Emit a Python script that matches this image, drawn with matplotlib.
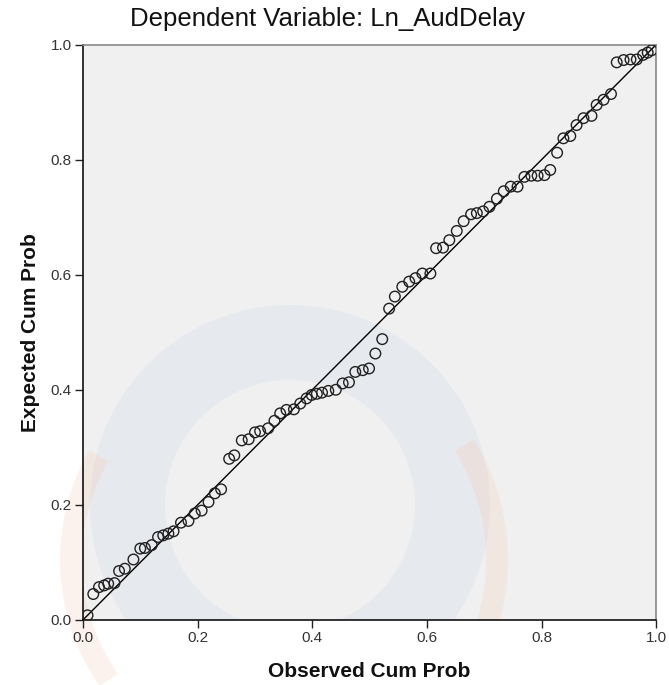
import numpy as np
import matplotlib
matplotlib.use("Agg")
import matplotlib.pyplot as plt
from matplotlib.patches import Wedge
from matplotlib.transforms import IdentityTransform

plt.rcParams['font.family'] = ['Liberation Sans', 'DejaVu Sans']

# P-P plot points (observed, expected)
observed = [0.008, 0.018, 0.028, 0.037, 0.044, 0.055, 0.063, 0.073, 0.088, 0.100,
            0.108, 0.120, 0.131, 0.140, 0.149, 0.158, 0.171, 0.184, 0.195, 0.207,
            0.219, 0.230, 0.241, 0.255, 0.264, 0.277, 0.289, 0.300, 0.309, 0.323,
            0.334, 0.344, 0.355, 0.368, 0.379, 0.390, 0.399, 0.408, 0.417, 0.428,
            0.441, 0.453, 0.464, 0.475, 0.488, 0.499, 0.510, 0.522, 0.534, 0.544,
            0.557, 0.569, 0.580, 0.592, 0.606, 0.616, 0.628, 0.639, 0.652, 0.664,
            0.677, 0.687, 0.698, 0.709, 0.722, 0.734, 0.746, 0.758, 0.770, 0.782,
            0.793, 0.805, 0.815, 0.827, 0.838, 0.850, 0.861, 0.873, 0.887, 0.896,
            0.908, 0.921, 0.931, 0.943, 0.955, 0.966, 0.977, 0.985, 0.992]
expected = [0.008, 0.045, 0.057, 0.060, 0.063, 0.064, 0.085, 0.089, 0.105, 0.124,
            0.125, 0.130, 0.144, 0.147, 0.150, 0.154, 0.169, 0.172, 0.185, 0.190,
            0.205, 0.220, 0.227, 0.280, 0.286, 0.312, 0.314, 0.326, 0.328, 0.333,
            0.346, 0.359, 0.365, 0.366, 0.376, 0.385, 0.391, 0.393, 0.395, 0.398,
            0.400, 0.411, 0.413, 0.431, 0.434, 0.437, 0.463, 0.488, 0.541, 0.562,
            0.579, 0.588, 0.594, 0.602, 0.602, 0.646, 0.647, 0.660, 0.676, 0.693,
            0.705, 0.707, 0.710, 0.718, 0.732, 0.745, 0.753, 0.753, 0.770, 0.772,
            0.772, 0.773, 0.782, 0.812, 0.837, 0.841, 0.860, 0.872, 0.876, 0.895,
            0.904, 0.914, 0.969, 0.973, 0.974, 0.974, 0.982, 0.986, 0.990]
ticks = [0.0, 0.2, 0.4, 0.6, 0.8, 1.0]

fig = plt.figure(figsize=(6.69, 6.85), dpi=100)
ax = fig.add_axes([0.124, 0.095, 0.857, 0.840])
ax.set_facecolor('#f0f0f0')

# faint watermark behind the plot (pixel coords)
ident = IdentityTransform()
ax.add_patch(Wedge((290, 180), 200, 0, 360, width=75, transform=ident,
                   color='#d8dfea', alpha=0.4, lw=0, zorder=0.5, clip_on=True))
ax.add_patch(Wedge((280, 125), 220, 150, 215, width=22, transform=ident,
                   color='#f6cdb8', alpha=0.25, lw=0, zorder=0.5, clip_on=False))
ax.add_patch(Wedge((280, 125), 228, -20, 32, width=22, transform=ident,
                   color='#f6cdb8', alpha=0.25, lw=0, zorder=0.5, clip_on=True))

ax.plot([0, 1], [0, 1], color='black', linewidth=1.0, zorder=2)
ax.scatter(observed, expected, s=58, facecolors='none', edgecolors='#202020',
           linewidths=1.0, zorder=3)

ax.set_xlim(0, 1)
ax.set_ylim(0, 1)
ax.set_xticks(ticks)
ax.set_yticks(ticks)
ax.set_xticklabels([f'{t:.1f}' for t in ticks])
ax.set_yticklabels([f'{t:.1f}' for t in ticks])
ax.tick_params(direction='out', length=6, width=1, colors='#222222',
               labelsize=11, labelcolor='#333333', pad=2)

for side in ['left', 'bottom']:
    ax.spines[side].set_color('#111111')
    ax.spines[side].set_linewidth(1.2)
for side in ['top', 'right']:
    ax.spines[side].set_color('#888888')
    ax.spines[side].set_linewidth(1.2)

fig.text(0.49, 0.972, 'Dependent Variable: Ln_AudDelay', fontsize=18.5,
         ha='center', va='center', color='#111111')
ax.set_xlabel('Observed Cum Prob', fontsize=15, fontweight='bold', labelpad=12,
              color='#111111')
ax.set_ylabel('Expected Cum Prob', fontsize=15, fontweight='bold', labelpad=8,
              color='#111111')

fig.savefig('out.png', dpi=100)
